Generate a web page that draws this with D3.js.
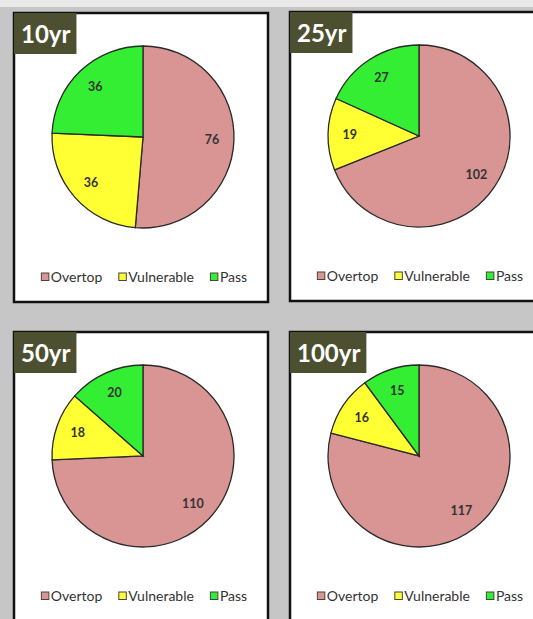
<!DOCTYPE html>
<html>
<head>
<meta charset="utf-8">
<script src="https://cdn.jsdelivr.net/npm/d3@7"></script>
<style>
    body { margin: 0; background: #c6c6c6; }
    svg { display: block; }
</style>
</head>
<body>
<div id="chart"></div>
<script>
// chart data
var panelNames = ["10yr", "25yr", "50yr", "100yr"];
var categories = ["Overtop", "Vulnerable", "Pass"];
var overtop = [76, 102, 110, 117];
var vulnerable = [36, 19, 18, 16];
var pass = [36, 27, 20, 15];
var colors = ["#d99594", "#ffff33", "#33ee33"];

function init() {
    var w = 533;
    var h = 619;
    var panelW = 254;
    var panelH = 289;
    var radius = 91;
    var font = "Lato, 'Open Sans', sans-serif";

    // panel top-left corners
    var panelX = [14, 290, 14, 290];
    var panelY = [13, 12, 332, 332];

    var svg = d3.select("#chart")
        .append("svg")
        .attr("width", w)
        .attr("height", h);

    // page background
    svg.append("rect")
        .attr("width", w)
        .attr("height", h)
        .attr("fill", "#c6c6c6");
    svg.append("rect")
        .attr("width", w)
        .attr("height", 7)
        .attr("fill", "#e9e9e9");

    var color = d3.scaleOrdinal()
        .domain(categories)
        .range(colors);

    var pie = d3.pie()
        .sort(null)
        .value(function (d) { return d.value; });

    var arc = d3.arc()
        .innerRadius(0)
        .outerRadius(radius);

    var labelArc = d3.arc()
        .innerRadius(radius * 0.76)
        .outerRadius(radius * 0.76);

    panelNames.forEach(function (name, i) {
        var rows = [
            { key: "Overtop", value: overtop[i] },
            { key: "Vulnerable", value: vulnerable[i] },
            { key: "Pass", value: pass[i] }
        ];

        var g = svg.append("g")
            .attr("transform", "translate(" + panelX[i] + "," + panelY[i] + ")");

        // panel box
        g.append("rect")
            .attr("width", panelW)
            .attr("height", panelH)
            .attr("fill", "white")
            .attr("stroke", "#111")
            .attr("stroke-width", 2.5);

        // pie
        var pg = g.append("g")
            .attr("transform", "translate(129,124)");

        pg.selectAll("path")
            .data(pie(rows))
            .enter()
            .append("path")
            .attr("d", arc)
            .attr("fill", function (d) { return color(d.data.key); })
            .attr("stroke", "#2a2a2a")
            .attr("stroke-width", 1.3);

        pg.selectAll(".lbl")
            .data(pie(rows))
            .enter()
            .append("text")
            .attr("class", "lbl")
            .attr("transform", function (d) {
                return "translate(" + labelArc.centroid(d) + ")";
            })
            .attr("text-anchor", "middle")
            .attr("dy", "0.35em")
            .style("font-family", font)
            .style("font-size", "12.5px")
            .style("font-weight", "bold")
            .attr("fill", "#333")
            .text(function (d) { return d.data.value; });

        // title tag
        var tag = g.append("g");
        var tagText = tag.append("text")
            .attr("x", 7)
            .attr("y", 30)
            .style("font-family", font)
            .style("font-size", "24px")
            .style("font-weight", "bold")
            .attr("fill", "white")
            .text(name);
        var tw = tagText.node().getComputedTextLength();
        tag.insert("rect", "text")
            .attr("x", 0)
            .attr("y", 0)
            .attr("width", tw + 13)
            .attr("height", 41)
            .attr("fill", "#4d5030");

        // legend
        var legend = g.append("g");
        var xPos = 0;
        var gap = 16;
        categories.forEach(function (c) {
            var item = legend.append("g")
                .attr("transform", "translate(" + xPos + ",0)");
            item.append("rect")
                .attr("x", 0.5)
                .attr("y", -4)
                .attr("width", 7.5)
                .attr("height", 7.5)
                .attr("fill", color(c))
                .attr("stroke", "#444")
                .attr("stroke-width", 1);
            var t = item.append("text")
                .attr("x", 10)
                .attr("y", 0)
                .attr("dy", "0.35em")
                .style("font-family", font)
                .style("font-size", "14px")
                .attr("fill", "#333")
                .text(c);
            xPos += 10 + t.node().getComputedTextLength() + gap;
        });
        var legW = xPos - gap;
        legend.attr("transform", "translate(" + (130 - legW / 2) + ",264)");
    });
}

window.onload = init;
</script>
</body>
</html>
